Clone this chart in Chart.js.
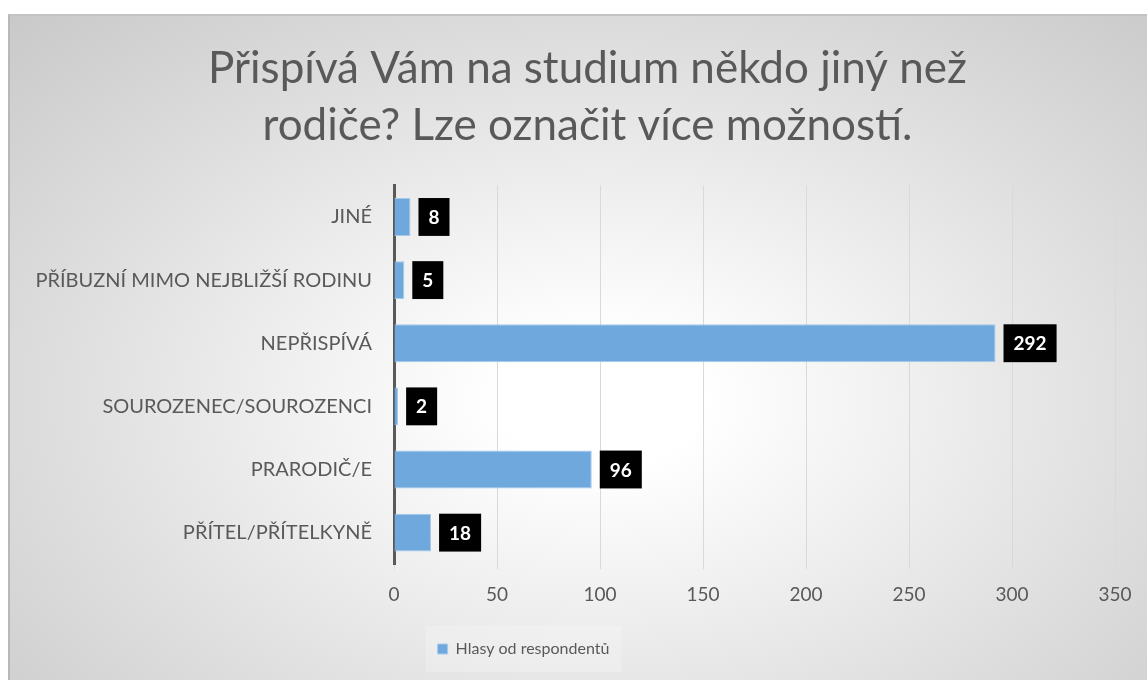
<!DOCTYPE html>
<html lang="cs">
<head>
  <meta charset="UTF-8" />
  <title>Přispívá Vám na studium někdo jiný než rodiče?</title>
  <script src="https://cdn.jsdelivr.net/npm/chart.js"></script>
  <style>
    html, body { margin: 0; padding: 0; background: #fff; }
    .pozadi {
      position: absolute; left: 8px; top: 14px; width: 1139px; height: 666px;
      background: radial-gradient(ellipse farthest-corner at 52% 58%, #ffffff 0%, #ffffff 12%, #f1f1f1 35%, #dedede 65%, #c9c9c9 100%);
      border-left: 2px solid #b8b8b8;
      border-top: 2px solid #c4c4c4;
      box-sizing: border-box;
    }
    .obal { position: absolute; left: 0; top: 0; width: 1147px; height: 680px; }
  </style>
</head>
<body>
  <div class="pozadi"></div>
  <div class="obal"><canvas id="graf"></canvas></div>

  <script>
    // data z grafu
    const kategorie = [
      "JINÉ",
      "PŘÍBUZNÍ MIMO NEJBLIŽŠÍ RODINU",
      "NEPŘISPÍVÁ",
      "SOUROZENEC/SOUROZENCI",
      "PRARODIČ/E",
      "PŘÍTEL/PŘÍTELKYNĚ"
    ];
    const hlasy = [8, 5, 292, 2, 96, 18];
    const nazevSerie = "Hlasy od respondentů";
    const nadpis = ["Přispívá Vám na studium někdo jiný než", "rodiče? Lze označit více možností."];

    const pismo = "Lato, 'Open Sans', sans-serif";
    const seda = "#595959";

    // černé štítky s hodnotou vedle sloupců
    const stitky = {
      id: "stitky",
      afterDatasetsDraw(chart) {
        const ctx = chart.ctx;
        const meta = chart.getDatasetMeta(0);
        ctx.save();
        ctx.font = "bold 19px " + pismo;
        ctx.textAlign = "center";
        ctx.textBaseline = "middle";
        meta.data.forEach((bar, i) => {
          const txt = String(chart.data.datasets[0].data[i]);
          const w = ctx.measureText(txt).width + 20;
          const h = bar.height;
          const x0 = bar.x + 8;
          ctx.fillStyle = "#000";
          ctx.fillRect(x0, bar.y - h / 2, w, h);
          ctx.fillStyle = "#fff";
          ctx.fillText(txt, x0 + w / 2, bar.y + 1);
        });
        ctx.restore();
      }
    };

    // nadpis a legenda posunuté jako v originále + světlejší obdélník za legendou
    const posuny = {
      id: "posuny",
      afterLayout(chart) {
        const lg = chart.legend;
        lg.left -= 34;
        lg.right -= 34;
        const t = chart.titleBlock;
        t.left += 30;
        t.right += 30;
      },
      beforeDraw(chart) {
        const lg = chart.legend;
        const ctx = chart.ctx;
        const sirka = 196, stred = (lg.left + lg.right) / 2;
        ctx.save();
        ctx.fillStyle = "rgba(255,255,255,0.22)";
        ctx.fillRect(stred - sirka / 2, 626, sirka, 46);
        ctx.restore();
      }
    };

    new Chart(document.getElementById("graf"), {
      type: "bar",
      data: {
        labels: kategorie,
        datasets: [{
          label: nazevSerie,
          data: hlasy,
          backgroundColor: "#6fa8dc",
          borderColor: "#a7c9ea",
          borderWidth: 1,
          barPercentage: 0.6,
          categoryPercentage: 1
        }]
      },
      options: {
        indexAxis: "y",
        responsive: true,
        maintainAspectRatio: false,
        animation: false,
        layout: { padding: { left: 0, right: 32, bottom: 13 } },
        scales: {
          x: {
            min: 0, max: 350,
            ticks: { stepSize: 50, color: seda, font: { family: pismo, size: 19 }, padding: 14 },
            grid: { color: "#d9d9d9", lineWidth: 1, tickLength: 5 },
            border: { display: false }
          },
          y: {
            afterFit(scale) { scale.width = 394; },
            ticks: { color: seda, font: { family: pismo, size: 20 }, padding: 22 },
            grid: { display: false, drawTicks: false },
            border: { color: seda, width: 3 }
          }
        },
        plugins: {
          title: {
            display: true,
            text: nadpis,
            color: seda,
            font: { family: pismo, size: 44, weight: "normal", lineHeight: 1.3 },
            padding: { top: 40, bottom: 31 }
          },
          legend: {
            position: "bottom",
            labels: {
              color: seda,
              font: { family: pismo, size: 16 },
              boxWidth: 10, boxHeight: 10,
              padding: 21
            }
          },
          tooltip: { enabled: false }
        }
      },
      plugins: [stitky, posuny]
    });
  </script>
</body>
</html>
